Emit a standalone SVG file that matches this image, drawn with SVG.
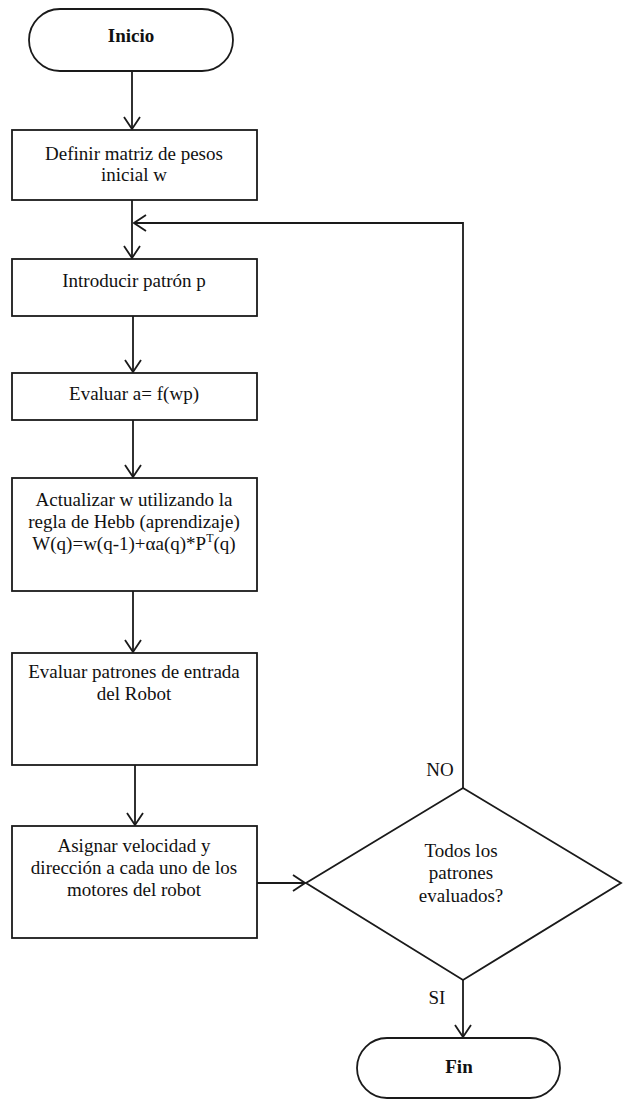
<svg xmlns="http://www.w3.org/2000/svg" width="623" height="1099" viewBox="0 0 623 1099">
  <style>
    .shape { fill: #ffffff; stroke: #1a1a1a; stroke-width: 1.8; }
    .line { fill: none; stroke: #1a1a1a; stroke-width: 1.8; }
    text { font-family: 'Liberation Serif', 'DejaVu Serif', serif; font-size: 19px; fill: #111111; text-anchor: middle; }
    .bold { font-weight: bold; }
  </style>
  <defs>
    <marker id="arrow" viewBox="0 0 14 18" refX="13" refY="9" markerWidth="14" markerHeight="18" markerUnits="userSpaceOnUse" orient="auto">
      <path d="M1,1 L13,9 L1,17" fill="none" stroke="#1a1a1a" stroke-width="1.8"/>
    </marker>
  </defs>
  <rect width="623" height="1099" fill="#ffffff"/>

  <!-- connectors -->
  <g id="connectors" font-family="Liberation Serif">
    <line class="line" x1="132" y1="71" x2="132" y2="129" marker-end="url(#arrow)"/>
    <line class="line" x1="132" y1="200" x2="132" y2="258" marker-end="url(#arrow)"/>
    <line class="line" x1="133" y1="316" x2="133" y2="372" marker-end="url(#arrow)"/>
    <line class="line" x1="133" y1="420" x2="133" y2="477" marker-end="url(#arrow)"/>
    <line class="line" x1="133" y1="591" x2="133" y2="652" marker-end="url(#arrow)"/>
    <line class="line" x1="135" y1="765" x2="135" y2="825" marker-end="url(#arrow)"/>
    <line class="line" x1="257" y1="883" x2="305" y2="883" marker-end="url(#arrow)"/>
    <polyline class="line" points="463,788 463,223 134,223" marker-end="url(#arrow)"/>
    <line class="line" x1="463" y1="980" x2="463" y2="1037" marker-end="url(#arrow)"/>
    <text x="440" y="776">NO</text>
    <text x="437" y="1004">SI</text>
  </g>

  <g id="inicio">
    <rect class="shape" x="29" y="9" width="204" height="62" rx="31" ry="31"/>
    <text class="bold" x="131" y="42">Inicio</text>
  </g>

  <g id="definir">
    <rect class="shape" x="12" y="130" width="245" height="70"/>
    <text x="134" y="160">Definir matriz de pesos</text>
    <text x="134" y="181">inicial w</text>
  </g>

  <g id="introducir">
    <rect class="shape" x="12" y="259" width="245" height="57"/>
    <text x="134" y="287">Introducir patrón p</text>
  </g>

  <g id="evaluar-a">
    <rect class="shape" x="12" y="373" width="245" height="47"/>
    <text x="134" y="400">Evaluar a= f(wp)</text>
  </g>

  <g id="actualizar">
    <rect class="shape" x="12" y="478" width="245" height="113"/>
    <text x="134" y="506">Actualizar w utilizando la</text>
    <text x="134" y="528">regla de Hebb (aprendizaje)</text>
    <text x="134" y="550">W(q)=w(q-1)+αa(q)*P<tspan font-size="12" dy="-8">T</tspan><tspan dy="8">(q)</tspan></text>
  </g>

  <g id="evaluar-patrones">
    <rect class="shape" x="12" y="653" width="245" height="112"/>
    <text x="134" y="678">Evaluar patrones de entrada</text>
    <text x="134" y="700">del Robot</text>
  </g>

  <g id="asignar">
    <rect class="shape" x="12" y="826" width="245" height="112"/>
    <text x="134" y="852">Asignar velocidad y</text>
    <text x="134" y="874">dirección a cada uno de los</text>
    <text x="134" y="896">motores del robot</text>
  </g>

  <g id="decision">
    <polygon class="shape" points="463,788 621,883 463,980 306,883"/>
    <text x="461" y="857">Todos los</text>
    <text x="461" y="879">patrones</text>
    <text x="461" y="902">evaluados?</text>
  </g>

  <g id="fin">
    <rect class="shape" x="357" y="1038" width="203" height="60" rx="30" ry="30"/>
    <text class="bold" x="459" y="1073">Fin</text>
  </g>
</svg>
